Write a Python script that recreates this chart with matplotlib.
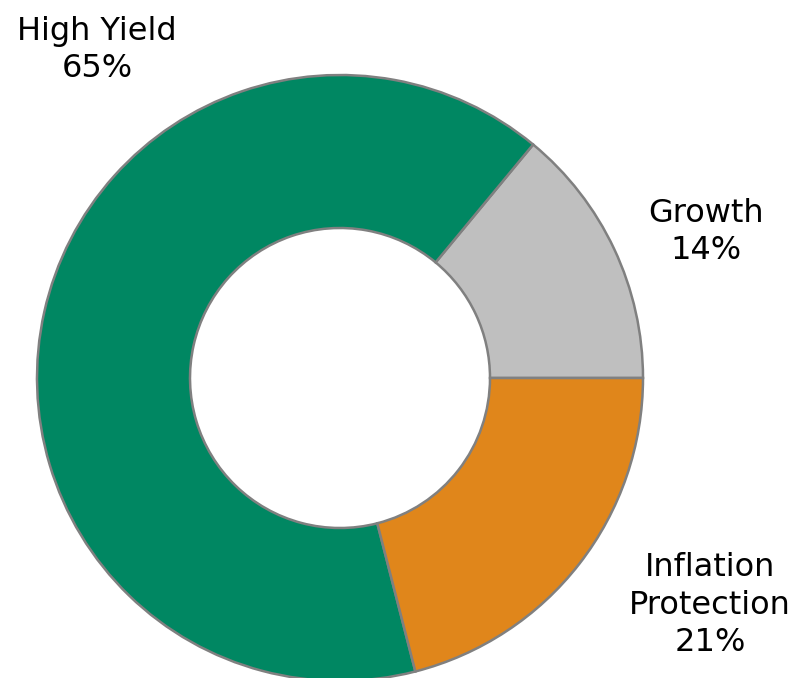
import matplotlib.pyplot as plt

# portfolio allocation
categories = ["Growth", "High Yield", "Inflation\nProtection"]
shares = [14, 65, 21]
colors = ["#bfbfbf", "#008762", "#e0861b"]

W, H = 794, 678
fig = plt.figure(figsize=(W / 100, H / 100), dpi=100)
ax = fig.add_axes([0, 0, 1, 1])

cx, cy, R = 340, H - 378, 303
ax.pie(shares, colors=colors, startangle=0, counterclock=True,
       center=(cx, cy), radius=R, frame=True,
       wedgeprops=dict(width=153, edgecolor="#808080", linewidth=1.8))
ax.set_xlim(0, W)
ax.set_ylim(0, H)
ax.set_aspect("equal")
ax.axis("off")

# label positions (pixels from top-left)
label_pos = {"Growth": (706, 232), "High Yield": (97, 50), "Inflation\nProtection": (710, 605)}
for name, val in zip(categories, shares):
    x, y = label_pos[name]
    ax.text(x, H - y, f"{name}\n{val}%", ha="center", va="center",
            fontsize=23, family="DejaVu Sans", linespacing=1.28, color="black")

fig.savefig("out.png", dpi=100)
